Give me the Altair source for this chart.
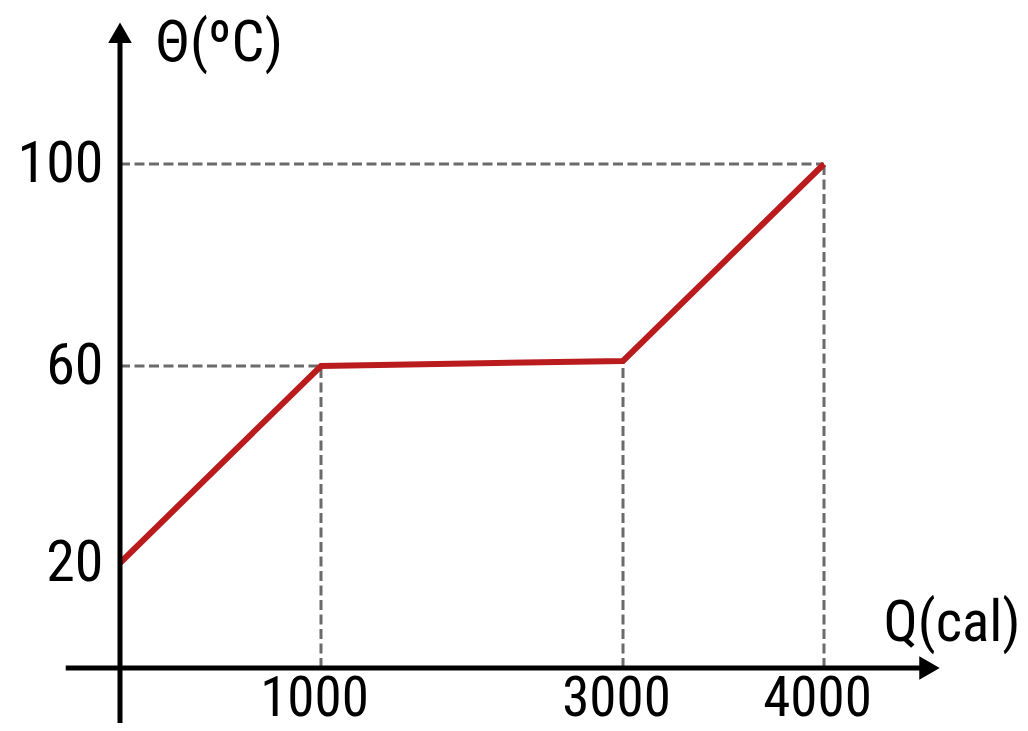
import altair as alt
import pandas as pd

# ---- data ----
Q = [0, 1000, 3000, 4000]          # heat (cal)
T = [20, 60, 61, 100]              # temperature (ºC)
x_ticks = [1000, 3000, 4000]
y_ticks = [20, 60, 100]
x_title = "Q(cal)"
y_title = "Θ(ºC)"

# guide lines: vertical drops for points 1..3, horizontal for the 60 and 100 points
dash_rows = [dict(x=Q[i], x2=Q[i], y=0, y2=T[i]) for i in (1, 2, 3)]
dash_rows += [dict(x=0, x2=Q[i], y=T[i], y2=T[i]) for i in (1, 3)]
dash_df = pd.DataFrame(dash_rows)

curve_df = pd.DataFrame({"x": Q, "y": T})

# axis arrows (extent of the drawn axes, in data units)
X_AXIS_EXT = [-270, 4525]
Y_AXIS_EXT = [-13, 126]
axes_df = pd.DataFrame([
    dict(x=X_AXIS_EXT[0], x2=X_AXIS_EXT[1], y=0, y2=0),
    dict(x=0, x2=0, y=Y_AXIS_EXT[0], y2=Y_AXIS_EXT[1]),
])
heads_df = pd.DataFrame([
    dict(x=X_AXIS_EXT[1], y=0, shape="triangle-right"),
    dict(x=0, y=Y_AXIS_EXT[1], shape="triangle-up"),
])

FONT = "Liberation Sans Narrow, Roboto Condensed, Arial Narrow, DejaVu Sans Condensed, sans-serif"

# piecewise scales (the reference is not drawn to scale)
xs = alt.Scale(domain=[0, 1000, 3000, 4000], range=[0, 201, 503, 704], nice=False, zero=False)
ys = alt.Scale(domain=[0, 20, 60, 100], range=[648, 543, 346, 144], nice=False, zero=False)

x_axis = alt.Axis(
    values=x_ticks, format="d", grid=False, domain=False, ticks=False, tickSize=0,
    labelFont=FONT, labelFontSize=55, labelColor="black", labelPadding=4,
    labelFlush=False, labelOverlap=False, labelOffset=-7,
    title=x_title, titleFont=FONT, titleFontSize=57, titleFontWeight="normal",
    titleColor="black", titleAngle=0, titleAlign="left", titleBaseline="alphabetic",
    titleX=763, titleY=-28,
)
y_axis = alt.Axis(
    values=y_ticks, format="d", grid=False, domain=False, ticks=False, tickSize=0,
    labelFont=FONT, labelFontSize=58, labelColor="black", labelPadding=17,
    labelFlush=False, labelOverlap=False,
    title=y_title, titleFont=FONT, titleFontSize=58, titleFontWeight="normal",
    titleColor="black", titleAngle=0, titleAlign="left", titleBaseline="alphabetic",
    titleX=35, titleY=40,
)

X = alt.X("x:Q", scale=xs, axis=x_axis)
Y = alt.Y("y:Q", scale=ys, axis=y_axis)

dashes = alt.Chart(dash_df).mark_rule(
    color="#6b6b6b", strokeWidth=3, strokeDash=[10, 4.5]
).encode(x=X, x2="x2:Q", y=Y, y2="y2:Q")

axes = alt.Chart(axes_df).mark_rule(color="black", strokeWidth=5).encode(
    x=X, x2="x2:Q", y=Y, y2="y2:Q"
)

heads = alt.Chart(heads_df).mark_point(
    filled=True, color="black", size=560, opacity=1
).encode(
    x=X, y=Y,
    shape=alt.Shape("shape:N", scale=None, legend=None),
)

curve = alt.Chart(curve_df).mark_line(
    color="#BA1C1E", strokeWidth=6, strokeJoin="miter", strokeCap="butt"
).encode(x=X, y=Y)

chart = alt.layer(dashes, curve, axes, heads).properties(
    width=900, height=648,
    autosize=alt.AutoSizeParams(type="none"),
    padding={"left": 112, "top": 12, "right": 0, "bottom": 55},
    background="white",
).configure_view(stroke=None)

chart.save("out.html", embed_options={"renderer": "svg", "actions": False})
